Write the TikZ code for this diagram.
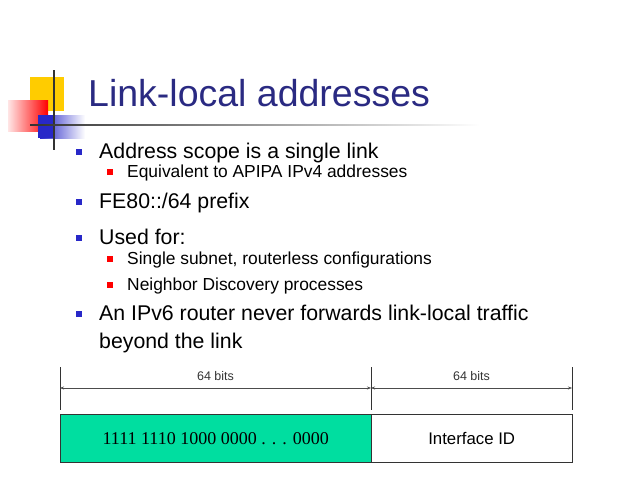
\documentclass[tikz,border=0pt]{standalone}
\usepackage{fontspec}
\setmainfont{Liberation Sans}
\newfontfamily\serifs{Liberation Serif}
\usetikzlibrary{arrows.meta}
\definecolor{ttl}{RGB}{42,42,130}
\definecolor{bl}{RGB}{40,40,200}
\definecolor{yl}{RGB}{255,204,0}
\definecolor{gr}{RGB}{0,222,160}
\begin{document}
\begin{tikzpicture}[x=1pt,y=-1pt,
  lone/.style={anchor=base west,font=\fontsize{21.3}{24}\selectfont},
  ltwo/.style={anchor=base west,font=\fontsize{17.4}{20}\selectfont},
  bone/.style={fill=bl,minimum size=6pt,inner sep=0pt},
  btwo/.style={fill=red,minimum size=5.5pt,inner sep=0pt},
  dim/.style={draw=black!70,line width=0.5pt,{Stealth[length=4pt,width=3pt]}-{Stealth[length=4pt,width=3pt]}},
  tick/.style={draw=black!80,line width=0.5pt},
  lbl/.style={font=\fontsize{12.5}{14}\selectfont,text=black!80}]
\useasboundingbox (0,0) rectangle (638,479);
% logo
\fill[yl] (30,77) rectangle (64,111);
\fill[left color=red!10,right color=red] (8,100) rectangle (48,131);
\fill[left color=bl,right color=white] (40,115) rectangle (85,138);
\fill[bl] (38,115) rectangle (54,138);
\draw[black!80,line width=1.2pt] (54,70) -- (54,150);
\shade[left color=black!80,right color=white] (30,124.3) rectangle (480,125.7);
% title
\node[anchor=base west,text=ttl,font=\fontsize{37.5}{40}\selectfont,inner sep=0pt] (title) at (88,106) {Link-local addresses};
% bullets
\node[bone] (b1) at (79,152) {}; \node[lone,inner sep=0pt] (t1) at (99,158) {Address scope is a single link};
\node[btwo] (b2) at (110,172) {}; \node[ltwo,inner sep=0pt] (t2) at (127,177) {Equivalent to APIPA IPv4 addresses};
\node[bone] (b3) at (79,202) {}; \node[lone,inner sep=0pt] (t3) at (99,208) {FE80::/64 prefix};
\node[bone] (b4) at (79,238) {}; \node[lone,inner sep=0pt] (t4) at (99,244) {Used for:};
\node[btwo] (b5) at (110,259) {}; \node[ltwo,inner sep=0pt] (t5) at (127,264) {Single subnet, routerless configurations};
\node[btwo] (b6) at (110,285) {}; \node[ltwo,inner sep=0pt] (t6) at (127,290) {Neighbor Discovery processes};
\node[bone] (b7) at (79,314) {}; \node[lone,inner sep=0pt] (t7) at (99,320) {An IPv6 router never forwards link-local traffic};
\node[lone,inner sep=0pt] (t8) at (99,348) {beyond the link};
% diagram
\coordinate (l0) at (60,367); \coordinate (l1) at (60,410);
\coordinate (m0) at (371,367); \coordinate (m1) at (371,410);
\coordinate (r0) at (572,367); \coordinate (r1) at (572,410);
\draw[tick] (l0) -- (l1); \draw[tick] (m0) -- (m1); \draw[tick] (r0) -- (r1);
\coordinate (la) at (60,388); \coordinate (ma) at (371,388); \coordinate (ra) at (572,388);
\draw[dim] (la) -- (ma); \draw[dim] (ma) -- (ra);
\node[lbl] (n1) at (215.5,376) {64 bits};
\node[lbl] (n2) at (471.5,376) {64 bits};
\node[draw=black!80,fill=gr,minimum width=311pt,minimum height=48pt,inner sep=0pt,anchor=north west,font=\serifs\fontsize{18}{20}\selectfont] (pre) at (60,414) {1111 1110 1000 0000 . . . 0000};
\node[draw=black!80,fill=white,minimum width=201pt,minimum height=48pt,inner sep=0pt,anchor=north west,font=\fontsize{16.8}{18}\selectfont] (iid) at (371,414) {Interface ID};
\end{tikzpicture}
\end{document}
